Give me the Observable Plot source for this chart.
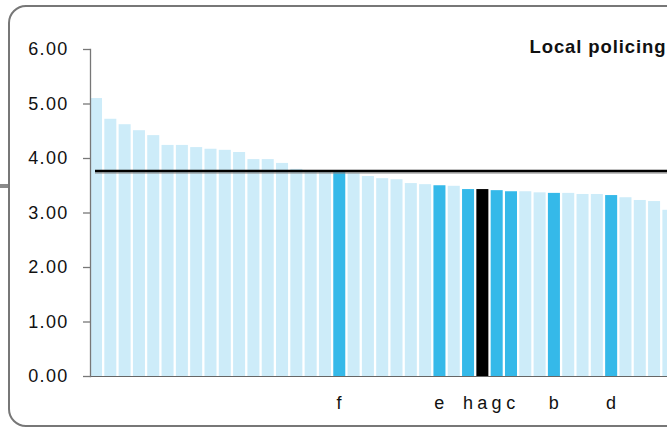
<!DOCTYPE html>
<html><head><meta charset="utf-8">
<script src="https://cdn.jsdelivr.net/npm/d3@7"></script>
<script src="https://cdn.jsdelivr.net/npm/@observablehq/plot@0.6"></script>
<style>
html,body{margin:0;padding:0;width:667px;height:428px;overflow:hidden;background:#fff;}
#box{position:absolute;left:8px;top:5px;width:800px;height:422px;border:2px solid #777;border-radius:18px;box-sizing:border-box;}
#stub{position:absolute;left:0;top:184px;width:9px;height:4px;background:#8a8a8a;}
#chart{position:absolute;left:0;top:0;width:700px;height:428px;}
#chart svg{max-width:none !important;width:700px !important;height:428px !important;}
#chart svg text{letter-spacing:1.3px;}
#chart svg .ttl text{letter-spacing:0.9px;}
</style></head><body>
<div id="stub"></div><div id="box"></div><div id="chart"></div>
<script>
const values = [5.10, 4.72, 4.62, 4.51, 4.42, 4.24, 4.24, 4.20, 4.17, 4.15, 4.11, 3.98, 3.98, 3.91, 3.80, 3.78, 3.77, 3.74, 3.73, 3.67, 3.63, 3.61, 3.54, 3.52, 3.50, 3.49, 3.43, 3.43, 3.41, 3.39, 3.39, 3.37, 3.36, 3.36, 3.34, 3.34, 3.32, 3.28, 3.23, 3.21, 3.05];
const highlighted = [18, 25, 27, 29, 30, 33, 37];
const selected = [28];
const labelIds = [18, 25, 27, 28, 29, 30, 33, 37];
const labelTexts = ["f", "e", "h", "a", "g", "c", "b", "d"];
const benchmark = 3.77;
const title = "Local policing";
const yTicks = [0, 1, 2, 3, 4, 5, 6];

const data = values.map((v, i) => ({
  id: i + 1, value: v,
  kind: selected.includes(i + 1) ? "sel" : highlighted.includes(i + 1) ? "hl" : "base"
}));
const labels = labelIds.map((id, i) => ({id, text: labelTexts[i]}));

const plot = Plot.plot({
  width: 700, height: 428,
  marginLeft: 90, marginRight: 25.6, marginTop: 49, marginBottom: 52,
  style: {fontFamily: "'Liberation Sans', Arial, sans-serif", background: "transparent", color: "#111"},
  x: {type: "band", domain: d3.range(1, values.length + 1), paddingInner: 0.16, paddingOuter: 0, align: 0, round: false, axis: null},
  y: {domain: [0, 6], label: null},
  color: {domain: ["base", "hl", "sel"], range: ["#cdecf9", "#35b9e9", "#000000"]},
  marks: [
    Plot.barY(data, {x: "id", y: "value", fill: "kind"}),
    Plot.ruleY([benchmark], {stroke: "#888", strokeWidth: 1, dy: 2, insetLeft: 5}),
    Plot.ruleY([benchmark], {stroke: "#000", strokeWidth: 2.5, insetLeft: 5}),
    Plot.ruleY([0], {stroke: "#666", strokeWidth: 1.2}),
    Plot.frame({anchor: "left", stroke: "#777", strokeWidth: 1.3}),
    Plot.axisY({ticks: yTicks, tickSize: 7, text: null, label: null, stroke: "#777", strokeWidth: 1.3}),
    Plot.axisY({ticks: yTicks, tickSize: 0, tickPadding: 22, label: null, tickFormat: d3.format(".2f"), fontSize: 18, fill: "#111"}),
    Plot.text(labels, {x: "id", y: 0, text: "text", dy: 27, lineAnchor: "middle", fontSize: 18, fill: "#111"}),
    Plot.text([title], {frameAnchor: "top-left", dx: 439, dy: 3, lineAnchor: "bottom", textAnchor: "start", fontWeight: "bold", fontSize: 18.5, fill: "#111", className: "ttl"})
  ]
});
document.getElementById("chart").append(plot);
</script>
</body></html>
